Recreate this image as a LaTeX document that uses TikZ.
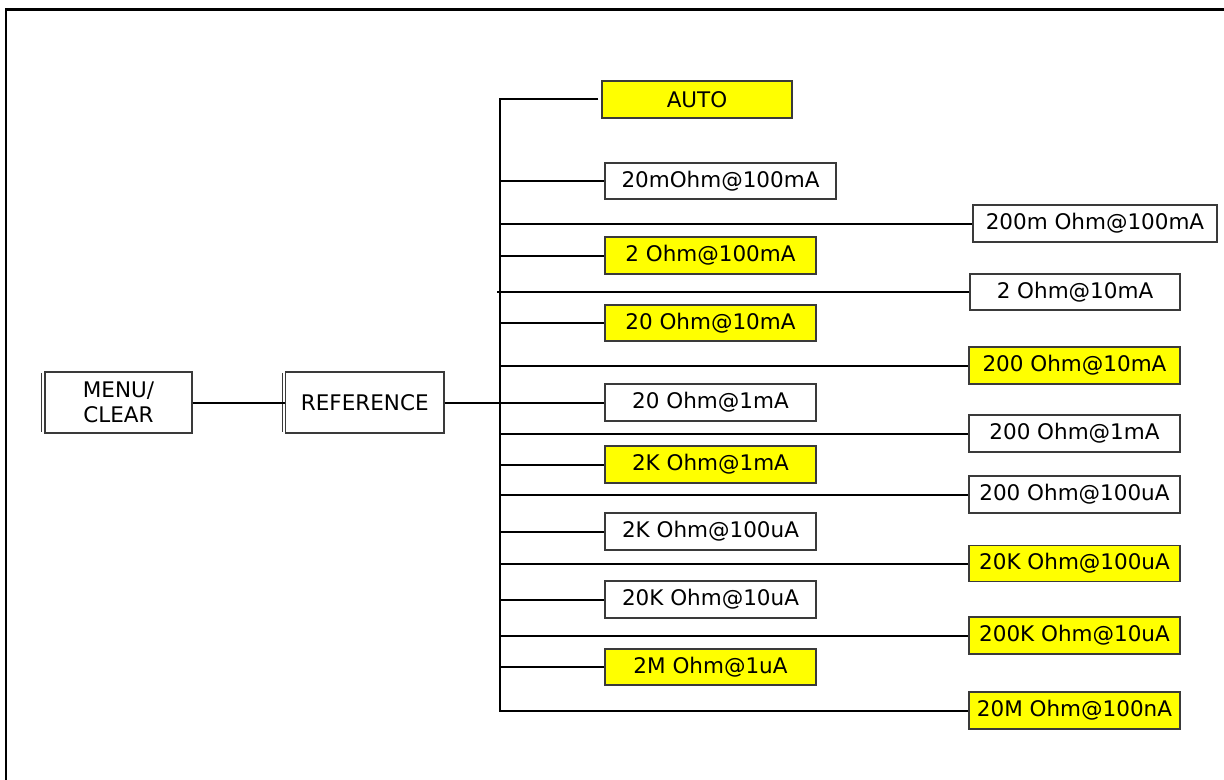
\documentclass[tikz,border=0pt]{standalone}
\usepackage{fontspec}
\setmainfont{DejaVu Sans}
\definecolor{boxline}{HTML}{3A3A3A}
\definecolor{hi}{HTML}{FFFF00}
\begin{document}
\begin{tikzpicture}[x=1bp,y=-1bp,
  box/.style={draw=boxline, line width=1.3bp, inner sep=0pt, align=center,
    font=\fontsize{21.5bp}{25bp}\selectfont, fill=white},
  yel/.style={box, fill=hi},
  conn/.style={line width=2bp, black, line join=miter},
  frame/.style={line width=2.5bp, black}]
\useasboundingbox (0,0) rectangle (1224,780);
\draw[frame] (6,780) -- (6,9.5) -- (1224,9.5);

\node[box, minimum width=147bp, minimum height=61bp] (menu) at (118.5,402.5) {MENU/\\CLEAR};
\node[box, minimum width=158.5bp, minimum height=61bp] (ref) at (364.75,402.5) {REFERENCE};
\draw[boxline, line width=1.3bp] ([xshift=-2.5bp,yshift=-2bp]menu.north west) -- ([xshift=-2.5bp,yshift=2bp]menu.south west);
\draw[boxline, line width=1.3bp] ([xshift=-2.5bp,yshift=-2bp]ref.north west) -- ([xshift=-2.5bp,yshift=2bp]ref.south west);

\coordinate (trunkx) at (500,0);

\node[yel, minimum width=190bp, minimum height=37bp] (auto) at (697,99.5) {AUTO};
\node[box, minimum width=231bp, minimum height=36bp] (m20) at (720.5,181) {20mOhm@100mA};
\node[box, minimum width=244bp, minimum height=37bp] (m200) at (1095,223.5) {200m Ohm@100mA};
\node[yel, minimum width=211bp, minimum height=37bp] (o2a) at (710.5,255.5) {2 Ohm@100mA};
\node[box, minimum width=210bp, minimum height=36bp] (o2b) at (1075,292) {2 Ohm@10mA};
\node[yel, minimum width=211bp, minimum height=36bp] (o20a) at (710.5,323) {20 Ohm@10mA};
\node[yel, minimum width=211bp, minimum height=37bp] (o200a) at (1074.5,365.5) {200 Ohm@10mA};
\node[box, minimum width=211bp, minimum height=37bp] (o20b) at (710.5,402.5) {20 Ohm@1mA};
\node[box, minimum width=211bp, minimum height=37bp] (o200b) at (1074.5,433.5) {200 Ohm@1mA};
\node[yel, minimum width=211bp, minimum height=37bp] (k2a) at (710.5,464.5) {2K Ohm@1mA};
\node[box, minimum width=211bp, minimum height=37bp] (o200c) at (1074.5,494.5) {200 Ohm@100uA};
\node[box, minimum width=211bp, minimum height=37bp] (k2b) at (710.5,531.5) {2K Ohm@100uA};
\node[yel, minimum width=211bp, minimum height=36bp] (k20a) at (1074.5,563.5) {20K Ohm@100uA};
\node[box, minimum width=211bp, minimum height=37bp] (k20b) at (710.5,599.5) {20K Ohm@10uA};
\node[yel, minimum width=211bp, minimum height=37bp] (k200) at (1074.5,635.5) {200K Ohm@10uA};
\node[yel, minimum width=211bp, minimum height=36bp] (M2) at (710.5,667) {2M Ohm@1uA};
\node[yel, minimum width=211bp, minimum height=37bp] (M20) at (1074.5,710.5) {20M Ohm@100nA};

\draw[conn] (menu.east) -- (ref.west);
\draw[conn] (ref.east) -- (o20b.west);
\draw[conn] ([xshift=-3bp]auto.west) -- (auto.west -| trunkx) -- (M20.west -| trunkx) -- (M20.west);
\foreach \n in {m20,m200,o2a,o20a,o200a,o200b,k2a,o200c,k2b,k20a,k20b,k200,M2}
  \draw[conn] (\n.west -| trunkx) -- (\n.west);
\draw[conn] ([xshift=-3bp]o2b.west -| trunkx) -- (o2b.west);
\end{tikzpicture}
\end{document}
